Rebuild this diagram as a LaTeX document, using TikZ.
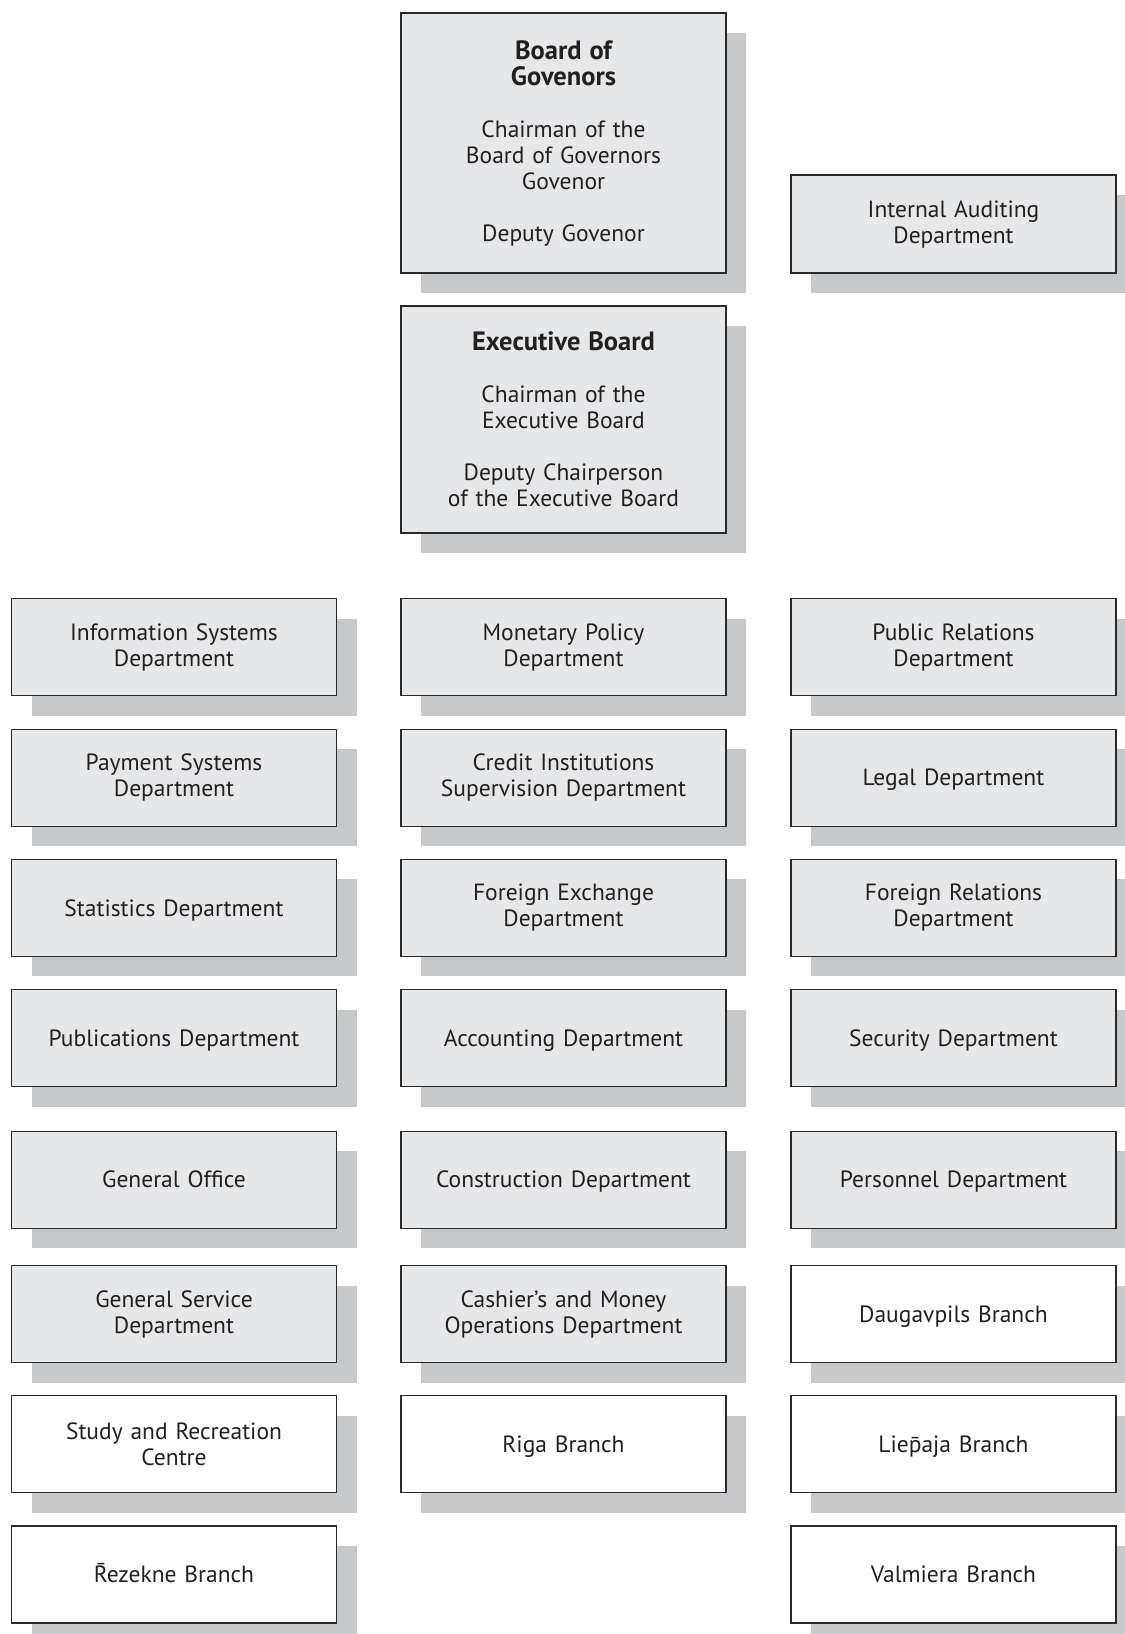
\documentclass[tikz,border=0pt]{standalone}
\usepackage{fontspec}
\setmainfont{PT Sans}
\usetikzlibrary{shadows}
\definecolor{boxfill}{HTML}{E6E7E8}
\definecolor{shadowc}{HTML}{C7C8CA}
\definecolor{edgec}{HTML}{2A2A2A}
\definecolor{textc}{HTML}{231F20}
\newcommand\macronon[1]{\accent"00AF #1}
\newcommand\headtxt[1]{{\fontsize{26.5}{26}\selectfont\bfseries #1}}
\tikzset{
  unit/.style={draw=edgec, line width=1.1pt, fill=boxfill, text=textc,
    minimum width=325pt, minimum height=97pt, text width=315pt, align=center,
    inner sep=0pt, outer sep=0pt,
    font=\fontsize{23.5}{26}\selectfont,
    general shadow={fill=shadowc, shadow xshift=20pt, shadow yshift=-20pt}},
  branch/.style={unit, fill=white},
  single/.style={text height=19pt, text depth=2.5pt}
}
\begin{document}
\begin{tikzpicture}[x=1pt,y=-1pt]
\useasboundingbox (0,0) rectangle (1125,1634);
\fill[white] (0,0) rectangle (1125,1634);
% top
\node[unit, minimum height=260pt] (gov) at (563.5,143) {\headtxt{Board of\\Govenors}\\[26pt]Chairman of the\\Board of Governors\\Govenor\\[26pt]Deputy Govenor};
\node[unit, minimum height=98pt] (audit) at (953.5,224) {Internal Auditing\\Department};
\node[unit, minimum height=227pt] (exec) at (563.5,419.5) {\headtxt{Executive Board}\\[26pt]Chairman of the\\Executive Board\\[26pt]Deputy Chairperson\\of the Executive Board};
% column 1
\node[unit] (is) at (174,647.4) {Information Systems\\Department};
\node[unit] (ps) at (174,777.6) {Payment Systems\\Department};
\node[unit, single] (st) at (174,907.8) {Statistics Department};
\node[unit, single] (pub) at (174,1038) {Publications Department};
\node[unit, single] (go) at (174,1179.7) {General Office};
\node[unit] (gs) at (174,1314.1) {General Service\\Department};
\node[branch] (src) at (174,1444.3) {Study and Recreation\\Centre};
\node[branch, single] (rez) at (174,1574.5) {\macronon{R}ezekne Branch};
% column 2
\node[unit] (mp) at (563.5,647.4) {Monetary Policy\\Department};
\node[unit] (ci) at (563.5,777.6) {Credit Institutions\\Supervision Department};
\node[unit] (fx) at (563.5,907.8) {Foreign Exchange\\Department};
\node[unit, single] (acc) at (563.5,1038) {Accounting Department};
\node[unit, single] (con) at (563.5,1179.7) {Construction Department};
\node[unit] (cash) at (563.5,1314.1) {Cashier’s and Money\\Operations Department};
\node[branch, single] (riga) at (563.5,1444.3) {Riga Branch};
% column 3
\node[unit] (pr) at (953.5,647.4) {Public Relations\\Department};
\node[unit, single] (leg) at (953.5,777.6) {Legal Department};
\node[unit] (fr) at (953.5,907.8) {Foreign Relations\\Department};
\node[unit, single] (sec) at (953.5,1038) {Security Department};
\node[unit, single] (per) at (953.5,1179.7) {Personnel Department};
\node[branch, single] (dau) at (953.5,1314.1) {Daugavpils Branch};
\node[branch, single] (lie) at (953.5,1444.3) {Lie\macronon{p}aja Branch};
\node[branch, single] (val) at (953.5,1574.5) {Valmiera Branch};
\end{tikzpicture}
\end{document}
